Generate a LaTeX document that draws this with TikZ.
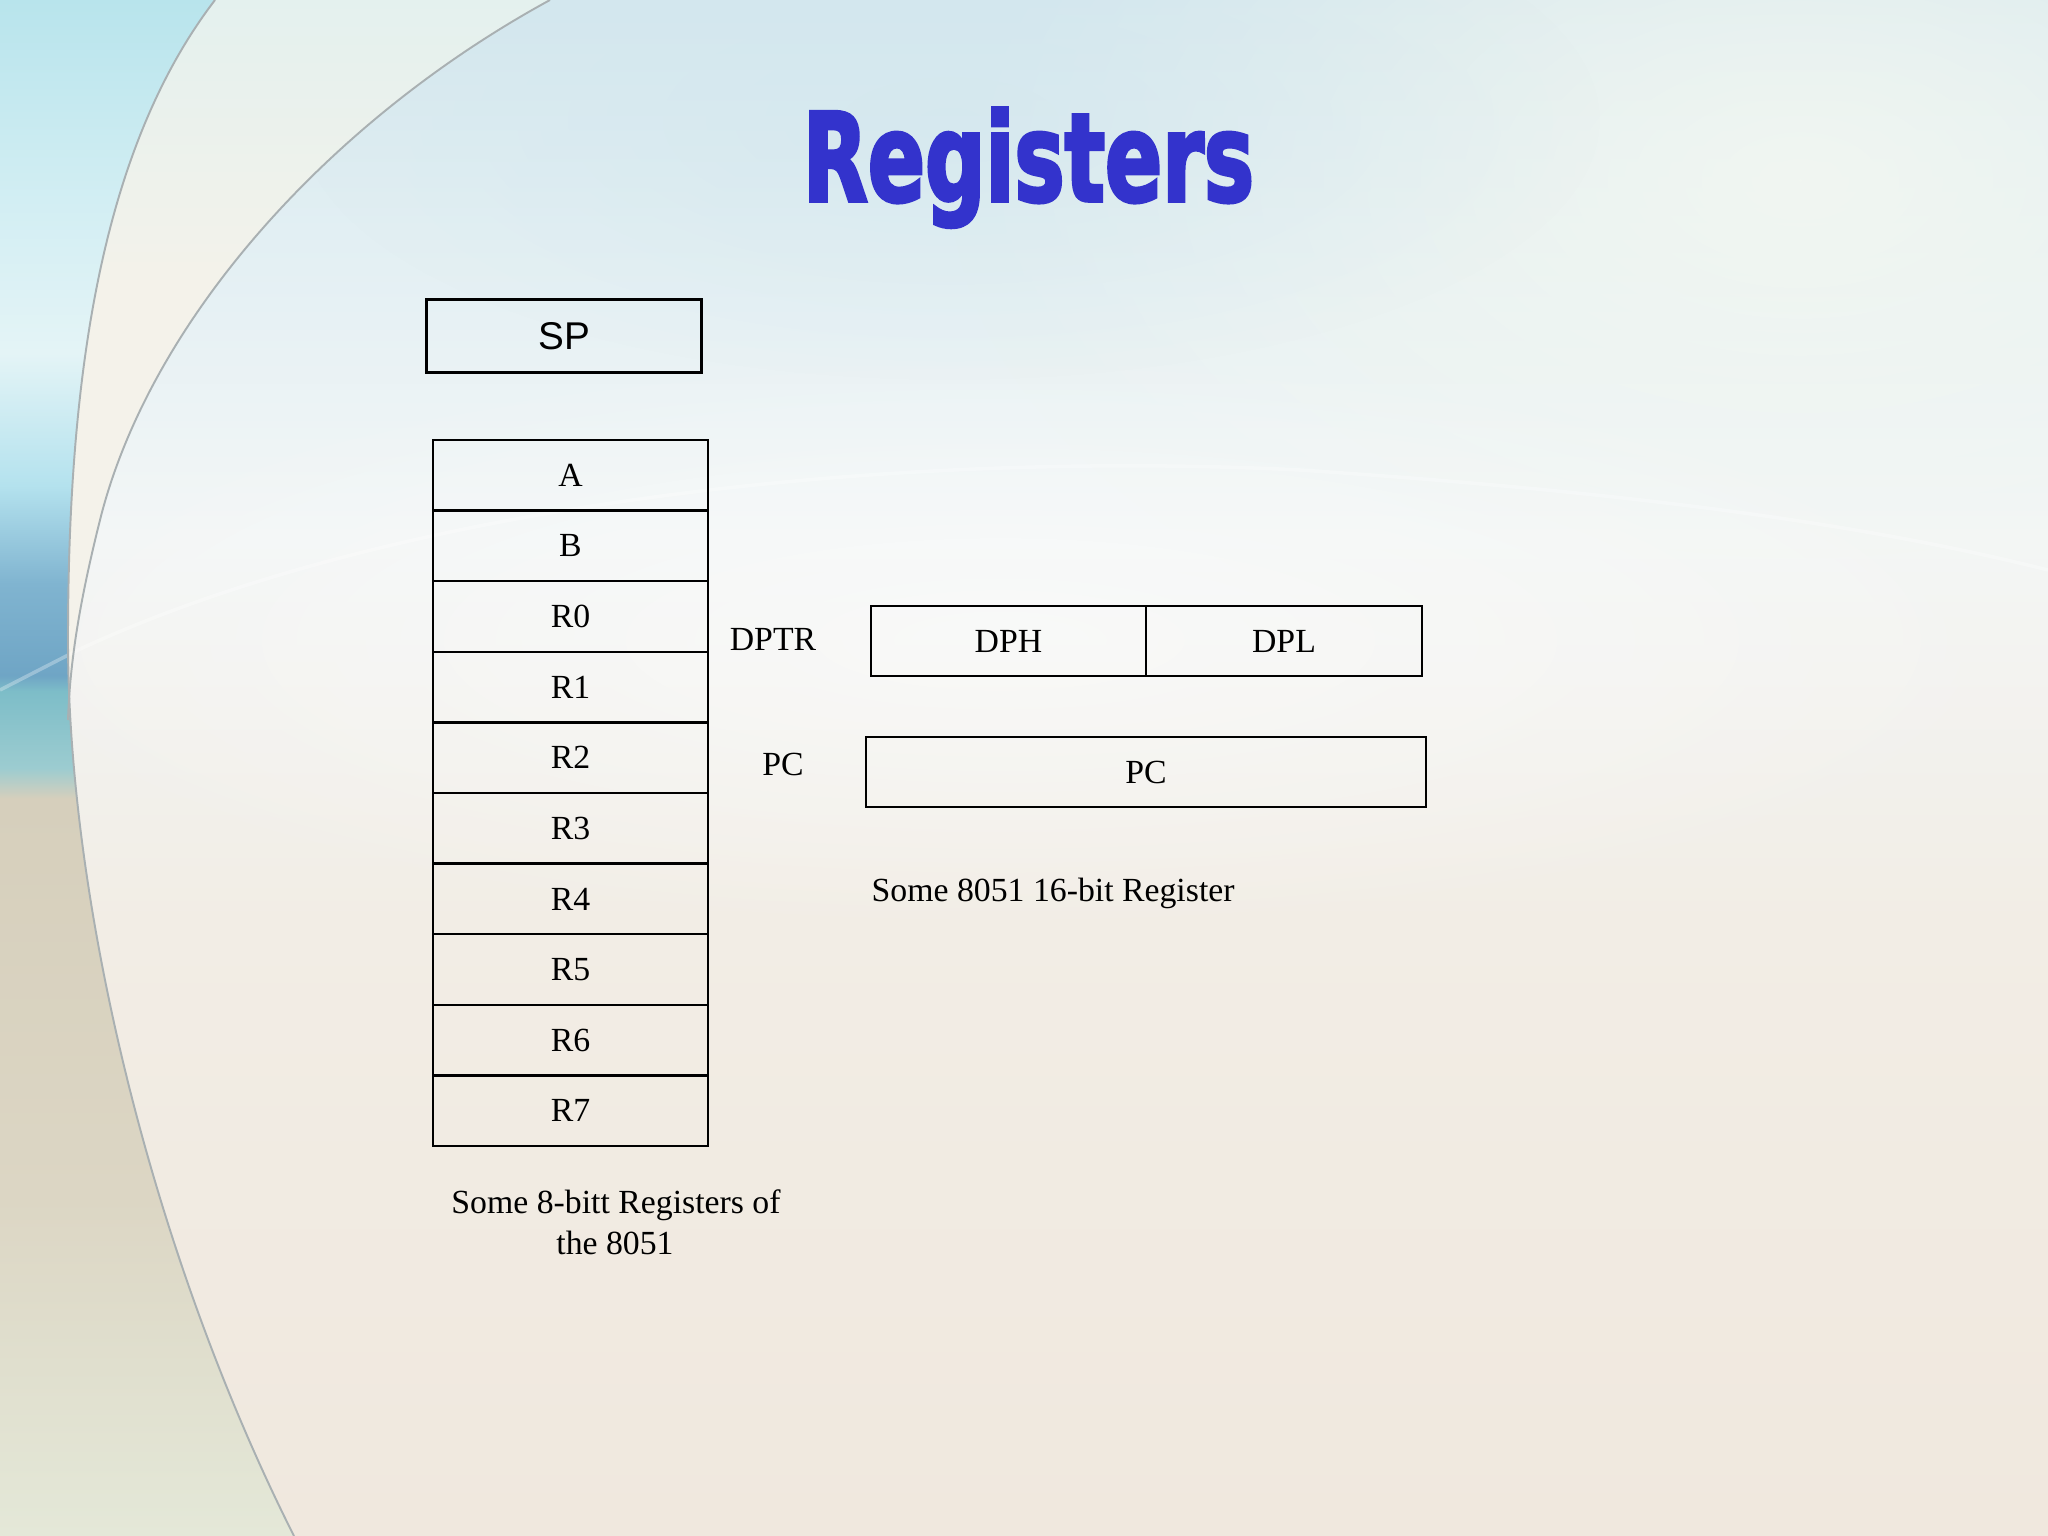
\documentclass[tikz,border=0pt]{standalone}
\usepackage{fontspec}
\setmainfont{Liberation Serif}
\newfontfamily\arialfont{Liberation Sans}
\newfontfamily\titlefont[FakeBold=3]{DejaVu Sans Condensed Bold}
\usetikzlibrary{fadings}
\definecolor{titleblue}{HTML}{3333CC}
\definecolor{bgtop}{HTML}{D3E7EE}
\definecolor{bgtopb}{HTML}{E2EFF3}
\definecolor{bgmid}{HTML}{F3F6F6}
\definecolor{bgmidb}{HTML}{F2EDE5}
\definecolor{bgbot}{HTML}{F0E8DE}
\definecolor{topright}{HTML}{F3F7F1}
\definecolor{lsA}{HTML}{E4E8D8}
\definecolor{lsB}{HTML}{DCD6C4}
\definecolor{lsC}{HTML}{D6CFBC}
\definecolor{lsD}{HTML}{9CCCD0}
\definecolor{lsE}{HTML}{7DBDC8}
\definecolor{lsF}{HTML}{6FA5C5}
\definecolor{lsG}{HTML}{80B4D0}
\definecolor{lsH}{HTML}{B4E2EE}
\definecolor{lsI}{HTML}{E4F4F6}
\definecolor{lsJ}{HTML}{D2EEF3}
\definecolor{lsK}{HTML}{B8E4EC}
\definecolor{crA}{HTML}{F4F2EA}
\definecolor{crB}{HTML}{E4F1EE}
\definecolor{arcgray}{HTML}{A9B0B2}
\pgfdeclareverticalshading{bgshade}{100bp}{color(0bp)=(bgbot); color(25bp)=(bgbot); color(45bp)=(bgmidb); color(57.5bp)=(bgmid); color(67.5bp)=(bgtopb); color(75bp)=(bgtop); color(100bp)=(bgtop)}
\pgfdeclareverticalshading{leftstrip}{100bp}{color(0bp)=(lsA); color(25bp)=(lsA); color(36bp)=(lsB); color(49bp)=(lsC); color(50bp)=(lsD); color(52.5bp)=(lsE); color(53bp)=(lsF); color(56bp)=(lsG); color(59.2bp)=(lsH); color(63.5bp)=(lsI); color(68.5bp)=(lsJ); color(75bp)=(lsK); color(100bp)=(lsK)}
\pgfdeclareverticalshading{creamstrip}{100bp}{color(0bp)=(crA); color(25bp)=(crA); color(55bp)=(crA); color(75bp)=(crB); color(100bp)=(crB)}
\tikzfading[name=softblob, inner color=transparent!0, outer color=transparent!100]
\begin{document}
\begin{tikzpicture}[x=0.01cm,y=-0.01cm,
  regbox/.style={draw=black, line width=0.65pt, minimum width=2.75cm, minimum height=0.706cm, inner sep=0pt, anchor=center, font=\fontsize{9.6pt}{11.5pt}\selectfont},
  spbox/.style={draw=black, line width=0.85pt, minimum width=2.74cm, minimum height=0.72cm, inner sep=0pt, anchor=center, font=\arialfont\fontsize{11pt}{13pt}\selectfont},
  lbl/.style={inner sep=0pt, font=\fontsize{9.6pt}{11.5pt}\selectfont},
  arcline/.style={draw=arcgray, line width=0.55pt}]
% background
\useasboundingbox (0,0) rectangle (2048,1536);
\shade[shading=bgshade] (0,0) rectangle (2048,1536);
\fill[topright, opacity=0.9, path fading=softblob] (1800,180) ellipse [x radius=850, y radius=520];
\fill[white, opacity=0.5, path fading=softblob] (1000,640) ellipse [x radius=1100, y radius=300];
\fill[bgtop, opacity=0.6, path fading=softblob] (950,120) ellipse [x radius=650, y radius=260];
% left strip
\shade[shading=leftstrip] (0,0) -- (215,0) .. controls (100,150) and (68,380) .. (68,640) .. controls (68,900) and (150,1250) .. (294,1536) -- (0,1536) -- cycle;
% cream band between arcs
\shade[shading=creamstrip] (215,0) .. controls (100,150) and (68,380) .. (68,640) -- (68,720) .. controls (70,660) and (80,600) .. (100,520) .. controls (150,320) and (330,120) .. (550,0) -- cycle;
% horizon
\draw[white, opacity=0.3, line width=1pt] (0,690) -- (78,650) .. controls (400,500) and (900,450) .. (1300,470) .. controls (1600,490) and (1850,520) .. (2048,570);
% arcs
\draw[arcline] (215,0) .. controls (100,150) and (68,380) .. (68,640) .. controls (68,900) and (150,1250) .. (294,1536);
\draw[arcline] (550,0) .. controls (330,120) and (150,320) .. (100,520) .. controls (80,600) and (70,660) .. (68,720);
% title
\node[anchor=base, inner sep=0pt, text=titleblue] (title) at (1028.5,201) {\resizebox{4.51cm}{0.93cm}{\titlefont Registers}};
% SP
\node[spbox] (sp) at (564,336) {SP};
% 8-bit registers
\node[regbox] (rA) at (570.5,475.3) {A};
\node[regbox] (rB) at (570.5,545.9) {B};
\node[regbox] (r0) at (570.5,616.5) {R0};
\node[regbox] (r1) at (570.5,687.1) {R1};
\node[regbox] (r2) at (570.5,757.7) {R2};
\node[regbox] (r3) at (570.5,828.3) {R3};
\node[regbox] (r4) at (570.5,898.9) {R4};
\node[regbox] (r5) at (570.5,969.5) {R5};
\node[regbox] (r6) at (570.5,1040.1) {R6};
\node[regbox] (r7) at (570.5,1110.7) {R7};
\node[lbl, anchor=base] (cap8a) at (616,1213) {Some 8-bitt Registers of};
\node[lbl, anchor=base] (cap8b) at (615,1254) {the 8051};
% 16-bit registers
\node[lbl] (dptrlbl) at (773,639) {DPTR};
\node[regbox, minimum width=2.755cm, minimum height=0.70cm] (dph) at (1008.5,641) {DPH};
\node[regbox, minimum width=2.76cm, minimum height=0.70cm] (dpl) at (1284,641) {DPL};
\node[lbl] (pclbl) at (783,764) {PC};
\node[regbox, minimum width=5.60cm, minimum height=0.70cm] (pc) at (1146,772) {PC};
\node[lbl, anchor=base west] (cap16) at (871,901) {Some 8051 16-bit Register};
\end{tikzpicture}
\end{document}
